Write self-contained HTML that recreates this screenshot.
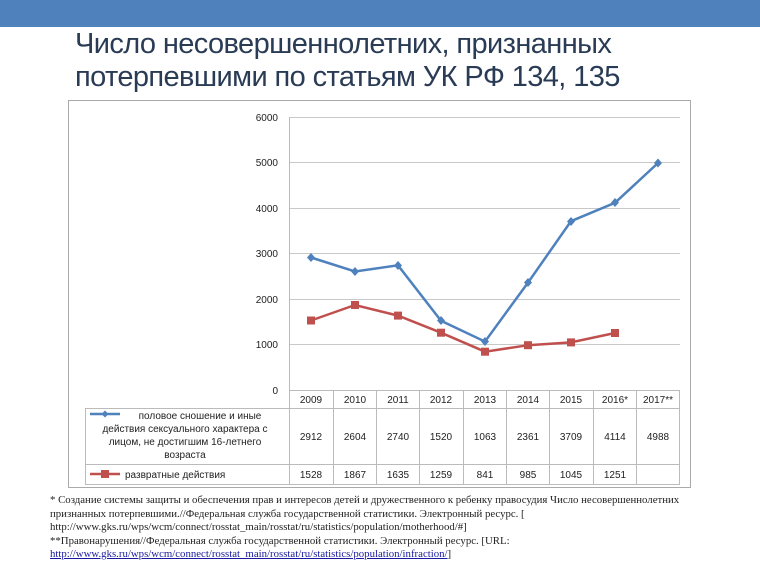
<!DOCTYPE html>
<html><head><meta charset="utf-8"><style>
body{margin:0;width:760px;height:570px;background:#fff;overflow:hidden;position:relative;font-family:"Liberation Sans",sans-serif}
.bar{position:absolute;left:0;top:0;width:760px;height:27px;background:#4f81bd}
.t{position:absolute;left:75px;font-size:29px;color:#2a3b55;white-space:nowrap;transform:scaleX(1.0);transform-origin:0 0;letter-spacing:-0.6px}
.fn{position:absolute;left:50px;top:494px;font-family:"Liberation Serif",serif;font-size:10.8px;line-height:13.5px;color:#222}
.fn a{color:#1a1aa0;text-decoration:underline}
</style></head><body>
<div class="bar"></div>
<div class="t" style="top:28px">Число несовершеннолетних, признанных</div>
<div class="t" style="top:61px">потерпевшими по статьям УК РФ 134, 135</div>
<svg width="760" height="570" style="position:absolute;left:0;top:0" font-family="Liberation Sans, sans-serif">
<rect x="68.5" y="100.5" width="622" height="387" fill="none" stroke="#aaa"/>
<g stroke="#c8c8c8" stroke-width="1">
<line x1="290" y1="117.5" x2="680" y2="117.5"/>
<line x1="290" y1="162.5" x2="680" y2="162.5"/>
<line x1="290" y1="208.5" x2="680" y2="208.5"/>
<line x1="290" y1="253.5" x2="680" y2="253.5"/>
<line x1="290" y1="299.5" x2="680" y2="299.5"/>
<line x1="290" y1="344.5" x2="680" y2="344.5"/>
</g>
<g stroke="#bbb" fill="none">
<line x1="289.5" y1="117" x2="289.5" y2="484"/>
<line x1="290" y1="390.5" x2="680" y2="390.5"/>
<line x1="85" y1="408.5" x2="680" y2="408.5"/>
<line x1="85" y1="464.5" x2="680" y2="464.5"/>
<line x1="85" y1="484.5" x2="680" y2="484.5"/>
<line x1="85.5" y1="408" x2="85.5" y2="484"/>
<line x1="679.5" y1="390" x2="679.5" y2="484"/>
<line x1="333.5" y1="390" x2="333.5" y2="484"/><line x1="376.5" y1="390" x2="376.5" y2="484"/>
<line x1="419.5" y1="390" x2="419.5" y2="484"/><line x1="463.5" y1="390" x2="463.5" y2="484"/>
<line x1="506.5" y1="390" x2="506.5" y2="484"/><line x1="549.5" y1="390" x2="549.5" y2="484"/>
<line x1="593.5" y1="390" x2="593.5" y2="484"/><line x1="636.5" y1="390" x2="636.5" y2="484"/>
</g>
<g font-size="10" fill="#222" text-anchor="end">
<text x="278" y="121">6000</text><text x="278" y="166">5000</text><text x="278" y="212">4000</text>
<text x="278" y="257">3000</text><text x="278" y="303">2000</text><text x="278" y="348">1000</text><text x="278" y="394">0</text>
</g>
<polyline fill="none" stroke="#4f81bd" stroke-width="2.5" points="311,257.5 355,271.5 398,265.3 441,320.8 485,341.6 528,282.6 571,221.2 615,202.8 658,163"/>
<g fill="#4f81bd">
<path d="M311 253l4 4.5-4 4.5-4-4.5z"/><path d="M355 267l4 4.5-4 4.5-4-4.5z"/><path d="M398 261l4 4.5-4 4.5-4-4.5z"/>
<path d="M441 316l4 4.5-4 4.5-4-4.5z"/><path d="M485 337l4 4.5-4 4.5-4-4.5z"/><path d="M528 278l4 4.5-4 4.5-4-4.5z"/>
<path d="M571 217l4 4.5-4 4.5-4-4.5z"/><path d="M615 198l4 4.5-4 4.5-4-4.5z"/><path d="M658 158.5l4 4.5-4 4.5-4-4.5z"/>
</g>
<polyline fill="none" stroke="#c0504d" stroke-width="2.5" points="311,320.5 355,305 398,315.6 441,332.7 485,351.7 528,345.2 571,342.4 615,333"/>
<g fill="#c0504d">
<rect x="307" y="316.5" width="8" height="8"/><rect x="351" y="301" width="8" height="8"/><rect x="394" y="311.6" width="8" height="8"/>
<rect x="437" y="328.7" width="8" height="8"/><rect x="481" y="347.7" width="8" height="8"/><rect x="524" y="341.2" width="8" height="8"/>
<rect x="567" y="338.4" width="8" height="8"/><rect x="611" y="329" width="8" height="8"/>
</g>
<g font-size="10" fill="#222" text-anchor="middle">
<text x="311" y="403">2009</text><text x="355" y="403">2010</text><text x="398" y="403">2011</text><text x="441" y="403">2012</text>
<text x="485" y="403">2013</text><text x="528" y="403">2014</text><text x="571" y="403">2015</text><text x="615" y="403">2016*</text><text x="658" y="403">2017**</text>
<text x="311" y="440">2912</text><text x="355" y="440">2604</text><text x="398" y="440">2740</text><text x="441" y="440">1520</text>
<text x="485" y="440">1063</text><text x="528" y="440">2361</text><text x="571" y="440">3709</text><text x="615" y="440">4114</text><text x="658" y="440">4988</text>
<text x="311" y="478">1528</text><text x="355" y="478">1867</text><text x="398" y="478">1635</text><text x="441" y="478">1259</text>
<text x="485" y="478">841</text><text x="528" y="478">985</text><text x="571" y="478">1045</text><text x="615" y="478">1251</text>
<text x="200" y="419">половое сношение и иные</text>
<text x="185" y="432">действия сексуального характера с</text>
<text x="185" y="445">лицом, не достигшим 16-летнего</text>
<text x="185" y="458">возраста</text>
</g>
<line x1="90" y1="414" x2="120" y2="414" stroke="#4f81bd" stroke-width="2.5"/>
<path d="M105 410.5l3.5 3.5-3.5 3.5-3.5-3.5z" fill="#4f81bd"/>
<line x1="90" y1="474" x2="120" y2="474" stroke="#c0504d" stroke-width="2.5"/>
<rect x="101" y="470" width="8" height="8" fill="#c0504d"/>
<text x="125" y="478" font-size="10" fill="#222">развратные действия</text>
</svg>
<div class="fn">* Создание системы защиты и обеспечения прав и интересов детей и дружественного к ребенку правосудия Число несовершеннолетних<br>признанных потерпевшими.//Федеральная служба государственной статистики. Электронный ресурс. [<br>http://www.gks.ru/wps/wcm/connect/rosstat_main/rosstat/ru/statistics/population/motherhood/#]<br>**Правонарушения//Федеральная служба государственной статистики. Электронный ресурс. [URL:<br><a>http://www.gks.ru/wps/wcm/connect/rosstat_main/rosstat/ru/statistics/population/infraction/</a>]</div>
</body></html>
